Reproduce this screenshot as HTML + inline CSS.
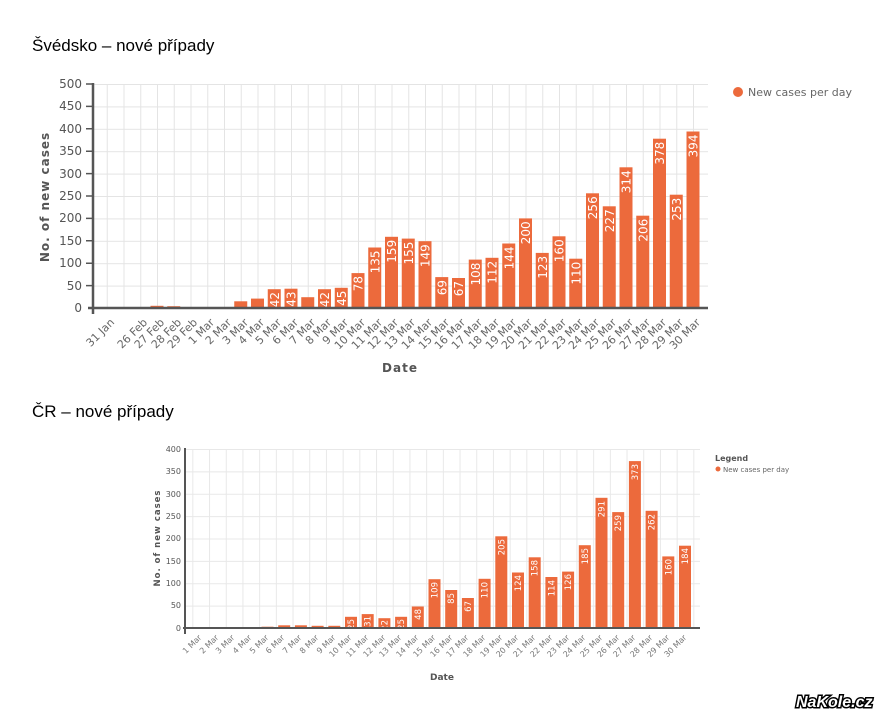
<!DOCTYPE html>
<html><head><meta charset="utf-8"><style>
html,body{margin:0;padding:0;background:#fff;width:876px;height:713px;overflow:hidden}
svg{display:block;font-family:"DejaVu Sans","Liberation Sans",sans-serif}
</style></head><body>
<svg width="876" height="713" viewBox="0 0 876 713" xmlns="http://www.w3.org/2000/svg">
<defs>
<pattern id="g1" x="106.75" y="84" width="16.75" height="22.4" patternUnits="userSpaceOnUse">
<path d="M0.5 0V22.4M0 0.5H16.75" stroke="#e4e4e4" stroke-width="1" fill="none"/></pattern>
<pattern id="g2" x="192.35" y="449" width="16.7" height="22.375" patternUnits="userSpaceOnUse">
<path d="M0.5 0V22.375M0 0.5H16.7" stroke="#e8e8e8" stroke-width="1" fill="none"/></pattern>
</defs>
<text x="32" y="51" font-family="Liberation Sans,sans-serif" font-size="17" fill="#000">Švédsko – nové případy</text>
<text x="32" y="417" font-family="Liberation Sans,sans-serif" font-size="17" fill="#000">ČR – nové případy</text>

<!-- TOP CHART -->
<rect x="93" y="84" width="615" height="224" fill="url(#g1)"/>
<g font-size="12" fill="#555" text-anchor="end">
<text x="82" y="88">500</text><text x="82" y="110">450</text><text x="82" y="133">400</text><text x="82" y="155">350</text><text x="82" y="178">300</text><text x="82" y="200">250</text><text x="82" y="222">200</text><text x="82" y="245">150</text><text x="82" y="267">100</text><text x="82" y="290">50</text><text x="82" y="312">0</text>
</g>
<g stroke="#555" stroke-width="1.5">
<path d="M86 84H93M86 106.4H93M86 128.8H93M86 151.2H93M86 173.6H93M86 196H93M86 218.4H93M86 240.8H93M86 263.2H93M86 285.6H93"/>
</g>
<g fill="#ec6a3c">
<rect x="117" y="307.5" width="13" height="0.5"/><rect x="133.75" y="307.5" width="13" height="0.5"/><rect x="150.5" y="305.8" width="13" height="2.2"/><rect x="167.25" y="306.2" width="13" height="1.8"/><rect x="184" y="307.1" width="13" height="0.9"/><rect x="200.75" y="307.5" width="13" height="0.5"/><rect x="217.5" y="307.5" width="13" height="0.5"/><rect x="234.25" y="301.3" width="13" height="6.7"/><rect x="251" y="298.6" width="13" height="9.4"/><rect x="267.75" y="289.2" width="13" height="18.8"/><rect x="284.5" y="288.7" width="13" height="19.3"/><rect x="301.25" y="297.2" width="13" height="10.8"/><rect x="318" y="289.2" width="13" height="18.8"/><rect x="334.75" y="287.8" width="13" height="20.2"/><rect x="351.5" y="273.1" width="13" height="34.9"/><rect x="368.25" y="247.5" width="13" height="60.5"/><rect x="385" y="236.8" width="13" height="71.2"/><rect x="401.75" y="238.6" width="13" height="69.4"/><rect x="418.5" y="241.2" width="13" height="66.8"/><rect x="435.25" y="277.1" width="13" height="30.9"/><rect x="452" y="278" width="13" height="30"/><rect x="468.75" y="259.6" width="13" height="48.4"/><rect x="485.5" y="257.8" width="13" height="50.2"/><rect x="502.25" y="243.5" width="13" height="64.5"/><rect x="519" y="218.4" width="13" height="89.6"/><rect x="535.75" y="252.9" width="13" height="55.1"/><rect x="552.5" y="236.3" width="13" height="71.7"/><rect x="569.25" y="258.7" width="13" height="49.3"/><rect x="586" y="193.3" width="13" height="114.7"/><rect x="602.75" y="206.3" width="13" height="101.7"/><rect x="619.5" y="167.3" width="13" height="140.7"/><rect x="636.25" y="215.7" width="13" height="92.3"/><rect x="653" y="138.7" width="13" height="169.3"/><rect x="669.75" y="194.7" width="13" height="113.3"/><rect x="686.5" y="131.5" width="13" height="176.5"/>
</g>
<g font-size="12" fill="#fff" text-anchor="end">
<text transform="translate(278.75,292) rotate(-90)">42</text>
<text transform="translate(295.5,291.5) rotate(-90)">43</text>
<text transform="translate(329,292) rotate(-90)">42</text>
<text transform="translate(345.75,290.6) rotate(-90)">45</text>
<text transform="translate(362.5,276) rotate(-90)">78</text>
<text transform="translate(379.25,250.5) rotate(-90)">135</text>
<text transform="translate(396,239.8) rotate(-90)">159</text>
<text transform="translate(412.75,241.6) rotate(-90)">155</text>
<text transform="translate(429.5,244.2) rotate(-90)">149</text>
<text transform="translate(446.25,280) rotate(-90)">69</text>
<text transform="translate(463,281) rotate(-90)">67</text>
<text transform="translate(479.75,262.6) rotate(-90)">108</text>
<text transform="translate(496.5,260.8) rotate(-90)">112</text>
<text transform="translate(513.25,246.5) rotate(-90)">144</text>
<text transform="translate(530,221.4) rotate(-90)">200</text>
<text transform="translate(546.75,255.9) rotate(-90)">123</text>
<text transform="translate(563.5,239.3) rotate(-90)">160</text>
<text transform="translate(580.25,261.7) rotate(-90)">110</text>
<text transform="translate(597,196.3) rotate(-90)">256</text>
<text transform="translate(613.75,209.3) rotate(-90)">227</text>
<text transform="translate(630.5,170.3) rotate(-90)">314</text>
<text transform="translate(647.25,218.7) rotate(-90)">206</text>
<text transform="translate(664,141.7) rotate(-90)">378</text>
<text transform="translate(680.75,197.7) rotate(-90)">253</text>
<text transform="translate(697.5,134.5) rotate(-90)">394</text>
</g>
<path d="M93 83V314M88 308H708" stroke="#555" stroke-width="2.5" fill="none"/>
<g font-size="11" fill="#666" text-anchor="end">
<text transform="translate(115,323) rotate(-45)">31 Jan</text>
<text transform="translate(148,323) rotate(-45)">26 Feb</text>
<text transform="translate(165,323) rotate(-45)">27 Feb</text>
<text transform="translate(182,323) rotate(-45)">28 Feb</text>
<text transform="translate(198,323) rotate(-45)">29 Feb</text>
<text transform="translate(215,323) rotate(-45)">1 Mar</text>
<text transform="translate(232,323) rotate(-45)">2 Mar</text>
<text transform="translate(249,323) rotate(-45)">3 Mar</text>
<text transform="translate(265,323) rotate(-45)">4 Mar</text>
<text transform="translate(282,323) rotate(-45)">5 Mar</text>
<text transform="translate(299,323) rotate(-45)">6 Mar</text>
<text transform="translate(316,323) rotate(-45)">7 Mar</text>
<text transform="translate(332,323) rotate(-45)">8 Mar</text>
<text transform="translate(349,323) rotate(-45)">9 Mar</text>
<text transform="translate(366,323) rotate(-45)">10 Mar</text>
<text transform="translate(383,323) rotate(-45)">11 Mar</text>
<text transform="translate(399,323) rotate(-45)">12 Mar</text>
<text transform="translate(416,323) rotate(-45)">13 Mar</text>
<text transform="translate(433,323) rotate(-45)">14 Mar</text>
<text transform="translate(450,323) rotate(-45)">15 Mar</text>
<text transform="translate(466,323) rotate(-45)">16 Mar</text>
<text transform="translate(483,323) rotate(-45)">17 Mar</text>
<text transform="translate(500,323) rotate(-45)">18 Mar</text>
<text transform="translate(517,323) rotate(-45)">19 Mar</text>
<text transform="translate(533,323) rotate(-45)">20 Mar</text>
<text transform="translate(550,323) rotate(-45)">21 Mar</text>
<text transform="translate(567,323) rotate(-45)">22 Mar</text>
<text transform="translate(584,323) rotate(-45)">23 Mar</text>
<text transform="translate(600,323) rotate(-45)">24 Mar</text>
<text transform="translate(617,323) rotate(-45)">25 Mar</text>
<text transform="translate(634,323) rotate(-45)">26 Mar</text>
<text transform="translate(651,323) rotate(-45)">27 Mar</text>
<text transform="translate(667,323) rotate(-45)">28 Mar</text>
<text transform="translate(684,323) rotate(-45)">29 Mar</text>
<text transform="translate(701,323) rotate(-45)">30 Mar</text>
</g>
<text x="400" y="372" font-size="12" font-weight="bold" fill="#555" text-anchor="middle" letter-spacing="1">Date</text>
<text transform="translate(49,197) rotate(-90)" font-size="12" font-weight="bold" fill="#555" text-anchor="middle" letter-spacing="1">No. of new cases</text>
<circle cx="738" cy="92" r="5" fill="#ec6a3c"/>
<text x="748" y="96" font-size="11" fill="#666">New cases per day</text>

<!-- BOTTOM CHART -->
<rect x="185" y="449" width="515" height="179" fill="url(#g2)"/>
<g font-size="8" fill="#555" text-anchor="end">
<text x="181" y="452">400</text><text x="181" y="474">350</text><text x="181" y="497">300</text><text x="181" y="519">250</text><text x="181" y="541">200</text><text x="181" y="564">150</text><text x="181" y="586">100</text><text x="181" y="608">50</text><text x="181" y="631">0</text>
</g>
<g fill="#ec6a3c">
<rect x="211.4" y="627.5" width="12" height="0.5"/><rect x="244.8" y="627.1" width="12" height="0.9"/><rect x="261.5" y="626.7" width="12" height="1.3"/><rect x="278.2" y="625.3" width="12" height="2.7"/><rect x="294.9" y="625.3" width="12" height="2.7"/><rect x="311.6" y="625.8" width="12" height="2.2"/><rect x="328.3" y="625.8" width="12" height="2.2"/><rect x="345" y="616.8" width="12" height="11.2"/><rect x="361.7" y="614.1" width="12" height="13.9"/><rect x="378.4" y="618.2" width="12" height="9.8"/><rect x="395.1" y="616.8" width="12" height="11.2"/><rect x="411.8" y="606.5" width="12" height="21.5"/><rect x="428.5" y="579.2" width="12" height="48.8"/><rect x="445.2" y="590" width="12" height="38"/><rect x="461.9" y="598" width="12" height="30"/><rect x="478.6" y="578.8" width="12" height="49.2"/><rect x="495.3" y="536.3" width="12" height="91.7"/><rect x="512" y="572.5" width="12" height="55.5"/><rect x="528.7" y="557.3" width="12" height="70.7"/><rect x="545.4" y="577" width="12" height="51"/><rect x="562.1" y="571.6" width="12" height="56.4"/><rect x="578.8" y="545.2" width="12" height="82.8"/><rect x="595.5" y="497.8" width="12" height="130.2"/><rect x="612.2" y="512.1" width="12" height="115.9"/><rect x="628.9" y="461.1" width="12" height="166.9"/><rect x="645.6" y="510.8" width="12" height="117.2"/><rect x="662.3" y="556.4" width="12" height="71.6"/><rect x="679" y="545.7" width="12" height="82.3"/>
</g>
<g font-size="8.5" fill="#fff" text-anchor="end">
<text transform="translate(354,619) rotate(-90)">25</text>
<text transform="translate(370.7,616) rotate(-90)">31</text>
<text transform="translate(387.4,620) rotate(-90)">22</text>
<text transform="translate(404.1,619) rotate(-90)">25</text>
<text transform="translate(420.8,609) rotate(-90)">48</text>
<text transform="translate(437.5,582) rotate(-90)">109</text>
<text transform="translate(454.2,593) rotate(-90)">85</text>
<text transform="translate(470.9,601) rotate(-90)">67</text>
<text transform="translate(487.6,582) rotate(-90)">110</text>
<text transform="translate(504.3,539) rotate(-90)">205</text>
<text transform="translate(521,575) rotate(-90)">124</text>
<text transform="translate(537.7,560) rotate(-90)">158</text>
<text transform="translate(554.4,580) rotate(-90)">114</text>
<text transform="translate(571.1,574) rotate(-90)">126</text>
<text transform="translate(587.8,548) rotate(-90)">185</text>
<text transform="translate(604.5,501) rotate(-90)">291</text>
<text transform="translate(621.2,515) rotate(-90)">259</text>
<text transform="translate(637.9,464) rotate(-90)">373</text>
<text transform="translate(654.6,514) rotate(-90)">262</text>
<text transform="translate(671.3,559) rotate(-90)">160</text>
<text transform="translate(688,548) rotate(-90)">184</text>
</g>
<path d="M185 448V634M183 628H700" stroke="#555" stroke-width="2" fill="none"/>
<g font-size="8" fill="#777" text-anchor="end">
<text transform="translate(202,638) rotate(-45)">1 Mar</text>
<text transform="translate(219,638) rotate(-45)">2 Mar</text>
<text transform="translate(235,638) rotate(-45)">3 Mar</text>
<text transform="translate(252,638) rotate(-45)">4 Mar</text>
<text transform="translate(269,638) rotate(-45)">5 Mar</text>
<text transform="translate(285,638) rotate(-45)">6 Mar</text>
<text transform="translate(302,638) rotate(-45)">7 Mar</text>
<text transform="translate(319,638) rotate(-45)">8 Mar</text>
<text transform="translate(336,638) rotate(-45)">9 Mar</text>
<text transform="translate(352,638) rotate(-45)">10 Mar</text>
<text transform="translate(369,638) rotate(-45)">11 Mar</text>
<text transform="translate(386,638) rotate(-45)">12 Mar</text>
<text transform="translate(402,638) rotate(-45)">13 Mar</text>
<text transform="translate(419,638) rotate(-45)">14 Mar</text>
<text transform="translate(436,638) rotate(-45)">15 Mar</text>
<text transform="translate(453,638) rotate(-45)">16 Mar</text>
<text transform="translate(469,638) rotate(-45)">17 Mar</text>
<text transform="translate(486,638) rotate(-45)">18 Mar</text>
<text transform="translate(503,638) rotate(-45)">19 Mar</text>
<text transform="translate(519,638) rotate(-45)">20 Mar</text>
<text transform="translate(536,638) rotate(-45)">21 Mar</text>
<text transform="translate(553,638) rotate(-45)">22 Mar</text>
<text transform="translate(570,638) rotate(-45)">23 Mar</text>
<text transform="translate(586,638) rotate(-45)">24 Mar</text>
<text transform="translate(603,638) rotate(-45)">25 Mar</text>
<text transform="translate(620,638) rotate(-45)">26 Mar</text>
<text transform="translate(636,638) rotate(-45)">27 Mar</text>
<text transform="translate(653,638) rotate(-45)">28 Mar</text>
<text transform="translate(670,638) rotate(-45)">29 Mar</text>
<text transform="translate(687,638) rotate(-45)">30 Mar</text>
</g>
<text x="442" y="680" font-size="9" font-weight="bold" fill="#555" text-anchor="middle">Date</text>
<text transform="translate(160,538) rotate(-90)" font-size="8.5" font-weight="bold" fill="#555" text-anchor="middle" letter-spacing="1">No. of new cases</text>
<text x="715" y="461" font-size="8" font-weight="bold" fill="#555">Legend</text>
<circle cx="718" cy="469" r="2.5" fill="#ec6a3c"/>
<text x="723" y="472" font-size="7" fill="#666">New cases per day</text>

<text x="796" y="707" font-family="Liberation Sans,sans-serif" font-size="16" font-weight="bold" font-style="italic" fill="#fff" stroke="#000" stroke-width="3" paint-order="stroke">NaKole.cz</text>
</svg>
</body></html>
